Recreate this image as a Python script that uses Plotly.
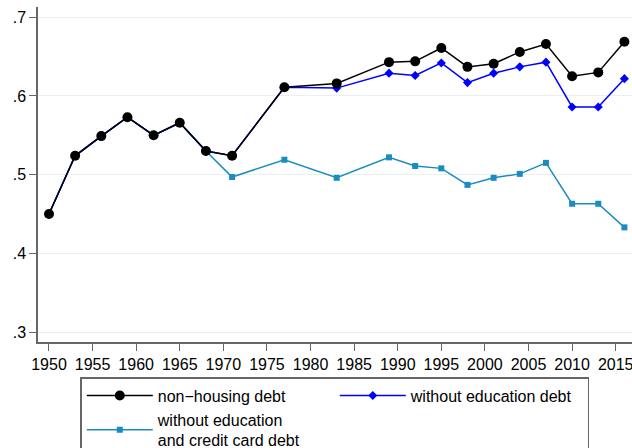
import plotly.graph_objects as go

years = [1950, 1953, 1956, 1959, 1962, 1965, 1968, 1971, 1977, 1983, 1989, 1992,
         1995, 1998, 2001, 2004, 2007, 2010, 2013, 2016]

non_housing = [0.450, 0.524, 0.549, 0.573, 0.550, 0.566, 0.530, 0.524, 0.611, 0.616,
               0.643, 0.644, 0.661, 0.637, 0.641, 0.656, 0.666, 0.625, 0.630, 0.669]

without_edu = [0.450, 0.524, 0.549, 0.573, 0.550, 0.566, 0.530, 0.524, 0.611, 0.610,
               0.629, 0.626, 0.642, 0.617, 0.629, 0.637, 0.643, 0.586, 0.586, 0.622]

without_edu_cc = [0.450, 0.524, 0.549, 0.573, 0.550, 0.566, 0.530, 0.497, 0.519, 0.496,
                  0.522, 0.511, 0.508, 0.487, 0.496, 0.501, 0.515, 0.463, 0.463, 0.433]

names = ["non\u2212housing debt", "without education debt",
         "without education<br>and credit card debt"]

x_ticks = list(range(1950, 2016, 5))
y_ticks = [0.3, 0.4, 0.5, 0.6, 0.7]
y_ticktext = [".3", ".4", ".5", ".6", ".7"]

FONT = "Liberation Sans"

fig = go.Figure()
fig.add_trace(go.Scatter(
    x=years, y=without_edu_cc, name=names[2], mode="lines+markers",
    line=dict(color="#1a8cc0", width=1.5),
    marker=dict(symbol="square", size=6, color="#1a8cc0"),
    legendrank=3))
fig.add_trace(go.Scatter(
    x=years, y=without_edu, name=names[1], mode="lines+markers",
    line=dict(color="#0000ff", width=1.5),
    marker=dict(symbol="diamond", size=7, color="#0000ff"),
    legendrank=2))
fig.add_trace(go.Scatter(
    x=years, y=non_housing, name=names[0], mode="lines+markers",
    line=dict(color="#000000", width=1.5),
    marker=dict(symbol="circle", size=10, color="#000000"),
    legendrank=1))

fig.update_layout(
    width=632, height=448,
    margin=dict(l=38, r=0, t=7, b=106, pad=0, autoexpand=False),
    paper_bgcolor="white", plot_bgcolor="white",
    font=dict(family=FONT, size=16, color="black"),
    showlegend=True,
    legend=dict(
        orientation="h", x=0.0712, xanchor="left", y=-0.105, yanchor="top",
        entrywidth=172, entrywidthmode="pixels", itemwidth=66,
        bordercolor="#666666", borderwidth=1.5, bgcolor="white",
        font=dict(family=FONT, size=16, color="black"),
        traceorder="normal",
    ),
    xaxis=dict(
        range=[1948.74, 2016.87], tickmode="array", tickvals=x_ticks,
        ticks="outside", ticklen=7, tickwidth=1, tickcolor="#666666",
        showline=True, linecolor="#666666", linewidth=1.5,
        showgrid=False, zeroline=False, automargin=False,
        ticklabeloverflow="allow",
        tickfont=dict(family=FONT, size=16, color="black"),
    ),
    yaxis=dict(
        range=[0.2873, 0.7131], tickmode="array", tickvals=y_ticks, ticktext=y_ticktext,
        ticks="outside", ticklen=7, tickwidth=1, tickcolor="#666666",
        showline=True, linecolor="#666666", linewidth=1.5,
        showgrid=True, gridcolor="#e8f0f2", gridwidth=1, zeroline=False, automargin=False,
        tickfont=dict(family=FONT, size=16, color="black"),
    ),
)

fig.write_html("out.html", config={"displayModeBar": False},
               post_script="document.body.style.margin='0';document.body.style.overflow='hidden';")
